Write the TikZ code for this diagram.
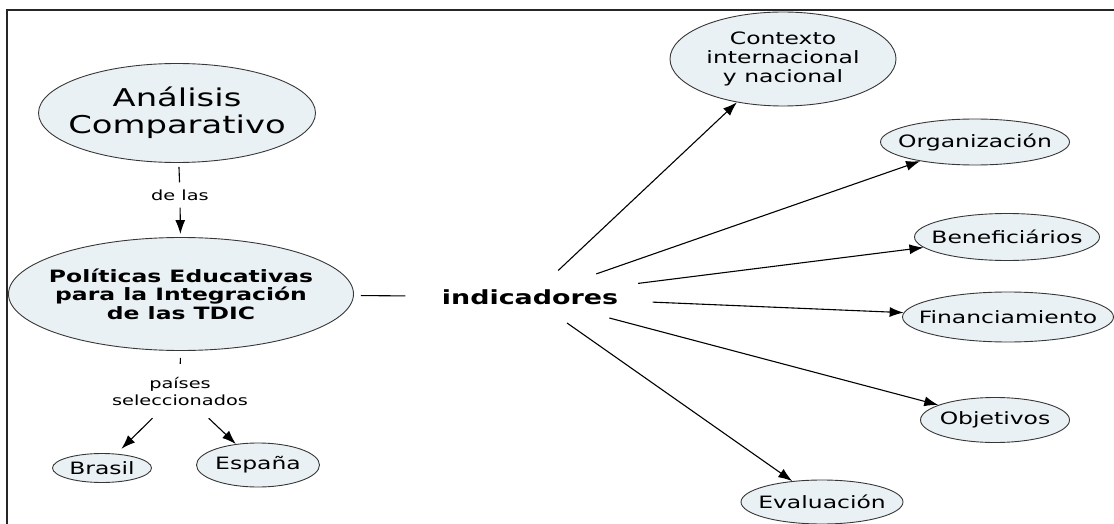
\documentclass[tikz,border=0pt]{standalone}
\usepackage{fontspec}
\setmainfont{DejaVu Sans}[FakeStretch=1.38]
\usepackage{tikz}
\usetikzlibrary{arrows.meta,shapes.geometric}
\definecolor{mapfill}{RGB}{234,241,244}
\definecolor{mapline}{RGB}{55,55,55}
\newcommand{\fsize}[2]{\fontsize{#1}{#2}\selectfont}

\begin{document}
\begin{tikzpicture}[x=1pt,y=-1pt,
    concept/.style={ellipse,draw=mapline,fill=mapfill,line width=0.9pt,inner sep=0pt},
    phrase/.style={inner sep=0pt,align=center},
    link/.style={line width=1.1pt,-{Latex[length=14pt,width=10pt]}},
    plain/.style={line width=1.1pt}]
        \useasboundingbox (0,0) rectangle (1114,524);
        % frame
        \draw[line width=2.2pt,black!85] (7,540) -- (7,10) -- (1130,10);
        % left concepts
        \node[concept,minimum width=277,minimum height=99] (ana) at (177,113) {};
        \node[align=center,font=\fsize{24.5}{27}] at (ana) {Análisis\\Comparativo};
        \node[concept,minimum width=345,minimum height=113] (pol) at (181,294) {};
        \node[align=center,font=\bfseries\fsize{17}{18.5}] at (pol) {Políticas Educativas\\para la Integración\\de las TDIC};
        \node[concept,minimum width=99,minimum height=29] (bra) at (102,468) {};
        \node[font=\fsize{17}{19}] at (bra) {Brasil};
        \node[concept,minimum width=123,minimum height=44] (esp) at (258,465) {};
        \node[font=\fsize{17}{19}] at (esp) {España};
        % linking phrases
        \node[phrase,minimum height=25,font=\fsize{14}{17}] (delas) at (180,195) {de las};
        \node[phrase,minimum height=54,minimum width=60,font=\fsize{14}{17}] (paises) at (180,391) {países\\seleccionados};
        \node[ellipse,inner sep=0pt,minimum width=200,minimum height=54,font=\bfseries\fsize{19.5}{22}] (ind) at (530,297) {indicadores};
        % right concepts
        \node[concept,minimum width=226,minimum height=94] (ctx) at (783,59) {};
        \node[align=center,font=\fsize{17}{19}] at (ctx) {Contexto\\internacional\\y nacional};
        \node[concept,minimum width=189,minimum height=46] (org) at (975,142) {};
        \node[font=\fsize{17}{19}] at (org) {Organización};
        \node[concept,minimum width=185,minimum height=47] (ben) at (1007,237) {};
        \node[font=\fsize{17}{19}] at (ben) {Beneficiários};
        \node[concept,minimum width=211,minimum height=50] (fin) at (1008,317) {};
        \node[font=\fsize{17}{19}] at (fin) {Financiamiento};
        \node[concept,minimum width=149,minimum height=45] (obj) at (995,420) {};
        \node[font=\fsize{17}{19}] at (obj) {Objetivos};
        \node[concept,minimum width=162,minimum height=44] (eva) at (822,502) {};
        \node[font=\fsize{17}{19}] at (eva) {Evaluación};
        % connectors
        \draw[plain,shorten <=4pt] (ana) -- (delas);
        \draw[link,shorten >=3pt] (delas) -- (pol);
        \draw[plain,shorten <=7pt] (pol) -- (paises);
        \draw[link,shorten >=7pt] (paises) -- (bra);
        \draw[link] (paises) -- (esp);
        \draw[plain,shorten <=7pt] (pol) -- (ind);
        \foreach \target in {ctx,org,ben,fin,obj,eva}
            \draw[link] (ind) -- (\target);
    \end{tikzpicture}
\end{document}
